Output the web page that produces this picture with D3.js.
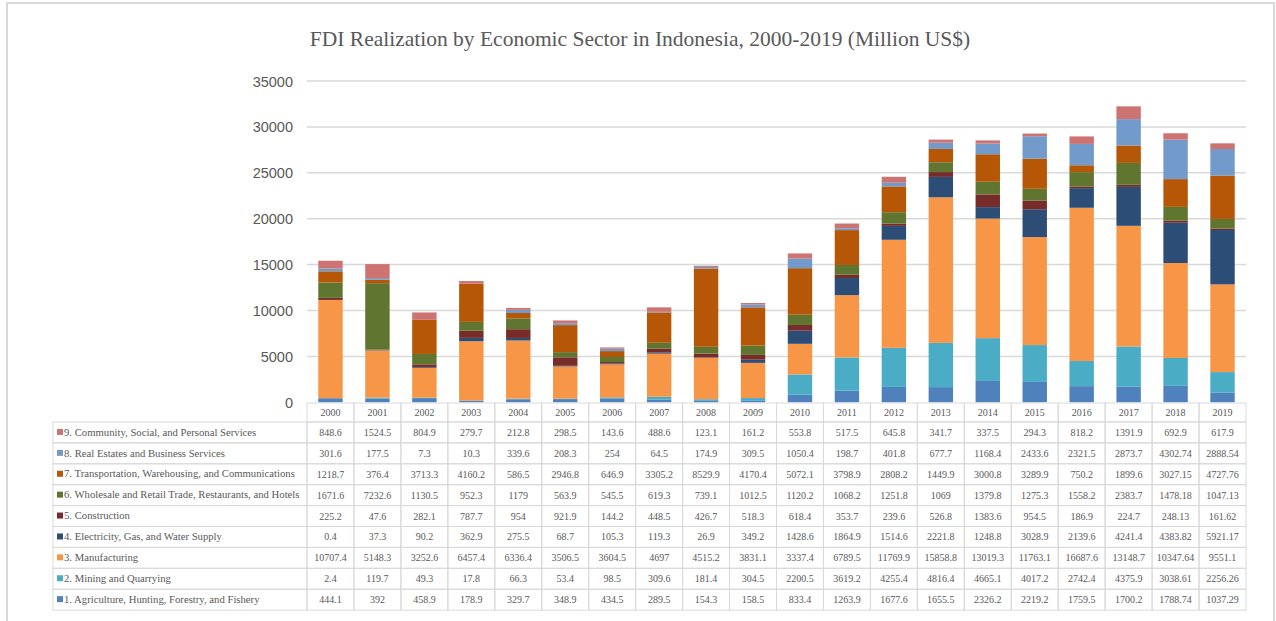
<!DOCTYPE html>
<html>
<head>
<meta charset="utf-8">
<script src="https://cdn.jsdelivr.net/npm/d3@7/dist/d3.min.js"></script>
<style>
  html, body { margin: 0; padding: 0; background: #fff; }
  svg { display: block; }
</style>
</head>
<body>
<svg id="chart" width="1276" height="621"></svg>
<script>
// FDI realization by sector, million US$
const years = ["2000","2001","2002","2003","2004","2005","2006","2007","2008","2009",
               "2010","2011","2012","2013","2014","2015","2016","2017","2018","2019"];

const sectorNames = [
  "1. Agriculture, Hunting, Forestry, and Fishery",
  "2. Mining and Quarrying",
  "3. Manufacturing",
  "4. Electricity, Gas, and Water Supply",
  "5. Construction",
  "6. Wholesale and Retail Trade, Restaurants, and Hotels",
  "7. Transportation, Warehousing, and Communications",
  "8. Real Estates and Business Services",
  "9. Community, Social, and Personal Services"
];

const agriculture   = [444.1, 392, 458.9, 178.9, 329.7, 348.9, 434.5, 289.5, 154.3, 158.5, 833.4, 1263.9, 1677.6, 1655.5, 2326.2, 2219.2, 1759.5, 1700.2, 1788.74, 1037.29];
const mining        = [2.4, 119.7, 49.3, 17.8, 66.3, 53.4, 98.5, 309.6, 181.4, 304.5, 2200.5, 3619.2, 4255.4, 4816.4, 4665.1, 4017.2, 2742.4, 4375.9, 3038.61, 2256.26];
const manufacturing = [10707.4, 5148.3, 3252.6, 6457.4, 6336.4, 3506.5, 3604.5, 4697, 4515.2, 3831.1, 3337.4, 6789.5, 11769.9, 15858.8, 13019.3, 11763.1, 16687.6, 13148.7, 10347.64, 9551.1];
const electricity   = [0.4, 37.3, 90.2, 362.9, 275.5, 68.7, 105.3, 119.3, 26.9, 349.2, 1428.6, 1864.9, 1514.6, 2221.8, 1248.8, 3028.9, 2139.6, 4241.4, 4383.82, 5921.17];
const construction  = [225.2, 47.6, 282.1, 787.7, 954, 921.9, 144.2, 448.5, 426.7, 518.3, 618.4, 353.7, 239.6, 526.8, 1383.6, 954.5, 186.9, 224.7, 248.13, 161.62];
const trade         = [1671.6, 7232.6, 1130.5, 952.3, 1179, 563.9, 545.5, 619.3, 739.1, 1012.5, 1120.2, 1068.2, 1251.8, 1069, 1379.8, 1275.3, 1558.2, 2383.7, 1478.18, 1047.13];
const transport     = [1218.7, 376.4, 3713.3, 4160.2, 586.5, 2946.8, 646.9, 3305.2, 8529.9, 4170.4, 5072.1, 3798.9, 2808.2, 1449.9, 3000.8, 3289.9, 750.2, 1899.6, 3027.15, 4727.76];
const realEstate    = [301.6, 177.5, 7.3, 10.3, 339.6, 208.3, 254, 64.5, 174.9, 309.5, 1050.4, 198.7, 401.8, 677.7, 1168.4, 2433.6, 2321.5, 2873.7, 4302.74, 2888.54];
const community     = [848.6, 1524.5, 804.9, 279.7, 212.8, 298.5, 143.6, 488.6, 123.1, 161.2, 553.8, 517.5, 645.8, 341.7, 337.5, 294.3, 818.2, 1391.9, 692.9, 617.9];

const yTicks = [0, 5000, 10000, 15000, 20000, 25000, 30000, 35000];

const sectorColors = ["#4f81bd", "#4bacc6", "#f79646", "#2c4d75", "#772c2a",
                      "#5f7530", "#b65708", "#729aca", "#cd7371"];

const seriesValues = [agriculture, mining, manufacturing, electricity, construction,
                      trade, transport, realEstate, community];

// one row per year, one key per sector
const keys = sectorNames.map((_, i) => "s" + i);
const rows = years.map((y, j) => {
  const r = { year: y };
  seriesValues.forEach((arr, i) => { r[keys[i]] = arr[j]; });
  return r;
});

const svg = d3.select("#chart");
const textGray = "#595959";
const lineGray = "#d9d9d9";

// outer frame
svg.append("rect")
  .attr("x", 7).attr("y", 3).attr("width", 1267).attr("height", 640)
  .attr("fill", "none").attr("stroke", lineGray).attr("stroke-width", 2);

// title
svg.append("text")
  .attr("x", 640).attr("y", 46)
  .attr("text-anchor", "middle")
  .attr("font-family", "'Liberation Serif', 'Times New Roman', serif")
  .attr("font-size", 21.5)
  .attr("fill", textGray)
  .text("FDI Realization by Economic Sector in Indonesia, 2000-2019 (Million US$)");

const plotLeft = 307, plotRight = 1246;
const x = d3.scaleBand().domain(years).range([plotLeft, plotRight]).padding(0);
const y = d3.scaleLinear().domain([0, 35000]).range([402.3, 81]);

// gridlines
svg.append("g").selectAll("line")
  .data(yTicks.filter(t => t > 0))
  .join("line")
  .attr("x1", plotLeft).attr("x2", plotRight)
  .attr("y1", d => y(d)).attr("y2", d => y(d))
  .attr("stroke", lineGray).attr("stroke-width", 1.5);

// y axis labels
const yAxis = d3.axisLeft(y).tickValues(yTicks).tickSize(0).tickPadding(0).tickFormat(d3.format("d"));
const yg = svg.append("g").attr("transform", "translate(293,0)").call(yAxis);
yg.select(".domain").remove();
yg.selectAll("text")
  .attr("font-family", "'Liberation Sans', Arial, sans-serif")
  .attr("font-size", 14.5)
  .attr("fill", textGray)
  .attr("dy", "0.35em");

// stacked bars
const stacked = d3.stack().keys(keys)(rows);
const barW = x.bandwidth() * 0.52;
svg.append("g").selectAll("g")
  .data(stacked)
  .join("g")
  .attr("fill", (d, i) => sectorColors[i])
  .selectAll("rect")
  .data(d => d)
  .join("rect")
  .attr("x", d => x(d.data.year) + (x.bandwidth() - barW) / 2)
  .attr("width", barW)
  .attr("y", d => y(d[1]))
  .attr("height", d => y(d[0]) - y(d[1]));

// data table below the plot
const headerTop = 403, headerH = 19;
const rowTop = headerTop + headerH, rowH = 20.9;
const tableLeft = 53;
const serif = "'Liberation Serif', 'Times New Roman', serif";
const table = svg.append("g");

// header cells with years
table.selectAll("rect.hdr")
  .data(years).join("rect").attr("class", "hdr")
  .attr("x", d => x(d)).attr("y", headerTop)
  .attr("width", x.bandwidth()).attr("height", headerH)
  .attr("fill", "none").attr("stroke", lineGray).attr("stroke-width", 1);
table.selectAll("text.hdr")
  .data(years).join("text").attr("class", "hdr")
  .attr("x", d => x(d) + x.bandwidth() / 2).attr("y", headerTop + headerH / 2)
  .attr("dy", "0.35em").attr("text-anchor", "middle")
  .attr("font-family", serif).attr("font-size", 10).attr("fill", textGray)
  .text(d => d);

// rows, top row is the last sector
const order = d3.range(sectorNames.length).reverse();
order.forEach((si, r) => {
  const top = rowTop + r * rowH;
  const g = table.append("g");
  g.append("rect")
    .attr("x", tableLeft).attr("y", top)
    .attr("width", plotLeft - tableLeft).attr("height", rowH)
    .attr("fill", "none").attr("stroke", lineGray).attr("stroke-width", 1);
  g.append("rect")
    .attr("x", tableLeft + 4).attr("y", top + rowH / 2 - 3.5)
    .attr("width", 6).attr("height", 6)
    .attr("fill", sectorColors[si]);
  g.append("text")
    .attr("x", tableLeft + 11).attr("y", top + rowH / 2)
    .attr("dy", "0.3em")
    .attr("font-family", serif).attr("font-size", 10.7).attr("fill", textGray)
    .text(sectorNames[si]);
  g.selectAll("rect.cell")
    .data(years).join("rect").attr("class", "cell")
    .attr("x", d => x(d)).attr("y", top)
    .attr("width", x.bandwidth()).attr("height", rowH)
    .attr("fill", "none").attr("stroke", lineGray).attr("stroke-width", 1);
  g.selectAll("text.val")
    .data(seriesValues[si]).join("text").attr("class", "val")
    .attr("x", (d, j) => x(years[j]) + x.bandwidth() / 2).attr("y", top + rowH / 2)
    .attr("dy", "0.35em").attr("text-anchor", "middle")
    .attr("font-family", serif).attr("font-size", 10).attr("fill", textGray)
    .text(d => String(d));
});
</script>
</body>
</html>
